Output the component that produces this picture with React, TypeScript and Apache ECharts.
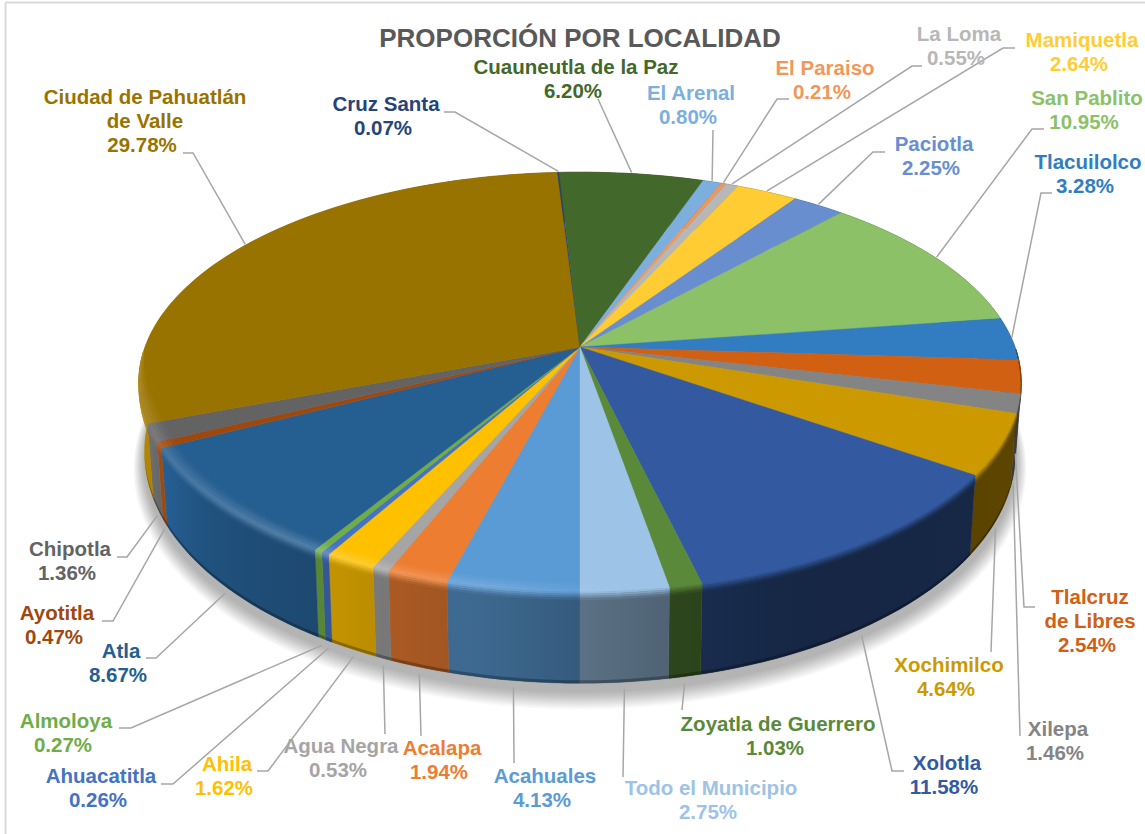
import React, { useEffect, useRef } from "react";
import * as echarts from "echarts";

const localidades = [
  "Acahuales", "Acalapa", "Agua Negra", "Ahila", "Ahuacatitla", "Almoloya", "Atla", "Ayotitla", "Chipotla",
  "Ciudad de Pahuatlán\nde Valle", "Cruz Santa", "Cuauneutla de la Paz", "El Arenal", "El Paraiso", "La Loma",
  "Mamiquetla", "Paciotla", "San Pablito", "Tlacuilolco", "Tlalcruz\nde Libres", "Xilepa", "Xochimilco", "Xolotla",
  "Zoyatla de Guerrero", "Todo el Municipio",
];
const porcentajes = [
  4.13, 1.94, 0.53, 1.62, 0.26, 0.27, 8.67, 0.47, 1.36, 29.78, 0.07, 6.2, 0.8, 0.21, 0.55, 2.64, 2.25, 10.95, 3.28,
  2.54, 1.46, 4.64, 11.58, 1.03, 2.75,
];
const colores = [
  "#5b9bd5", "#ed7d31", "#a5a5a5", "#ffc000", "#4472c4", "#70ad47", "#255e91", "#9e480e", "#636363", "#997300",
  "#264478", "#43682b", "#7cafdd", "#f1975a", "#b7b7b7", "#ffcd33", "#698ed0", "#8cc168", "#327dc2", "#d26012",
  "#848484", "#cc9a00", "#335aa1", "#5a8a39", "#9dc3e6",
];
const titulo = "PROPORCIÓN POR LOCALIDAD";

// Layout (not data): centre of each label's first line, then the leader's elbow points from the label side.
const labelPos: number[][] = [
  [545, 777], [442, 749], [341, 747], [227, 765], [101, 777], [66, 722], [121, 652], [57, 614], [70, 550],
  [145, 98], [386, 105], [576, 68], [691, 94], [825, 69], [959, 35], [1082, 41], [934, 145], [1087, 99], [1088, 163],
  [1090, 598], [1058, 730], [949, 666], [947, 764], [778, 725], [711, 789],
];
const leaderElbows: number[][][] = [
  [[514, 763]], [[421, 736]], [[385, 734]], [[257, 771], [268, 771]], [[161, 784], [173, 784]], [[119, 728], [131, 728]],
  [[146, 658], [156, 658]], [[102, 621], [113, 621]], [[117, 557], [127, 557]],
  [[183, 153], [193, 153]], [[444, 112], [455, 112]], [[598, 99]], [[713, 130]], [[789, 99], [777, 99]],
  [[922, 66], [912, 66]], [[1015, 48], [1003, 48]], [[885, 152], [873, 152]], [[1044, 129], [1032, 129]],
  [[1052, 193], [1041, 193]], [[1035, 607], [1024, 607]], [[1020, 736]], [[991, 652]], [[904, 771], [892, 771]],
  [[682, 710]], [[623, 777]],
];

const CX = 580, CY = 347, R = 435, RB = 204, K = 1 / 6;
const total = porcentajes.reduce((a, b) => a + b, 0);
const START_ANGLE = 180;
const angles: number[] = [START_ANGLE];
porcentajes.forEach((p, i) => angles.push(angles[i] + (p / total) * 360));

type P = number[];
const topPt = (deg: number, r = 1): P => {
  const t = (deg * Math.PI) / 180;
  const X = r * Math.sin(t), Z = r * Math.cos(t), s = 1 / (1 + K * Z);
  return [CX + R * X * s, CY - RB * Z * s];
};
const basePt = (p: P): P => [CX + (p[0] - CX) * 0.987, CY + 67 + 1.1 * (p[1] - CY)];
const arc = (a: number, b: number): number[] => {
  const n = Math.max(2, Math.ceil((b - a) / 1.5));
  return Array.from({ length: n + 1 }, (_, i) => a + ((b - a) * i) / n);
};
const lerpTable = (xs: number[], ys: number[], x: number) => {
  if (x <= xs[0]) return ys[0];
  for (let i = 1; i < xs.length; i++) {
    if (x <= xs[i]) return ys[i - 1] + ((ys[i] - ys[i - 1]) * (x - xs[i - 1])) / (xs[i] - xs[i - 1]);
  }
  return ys[ys.length - 1];
};
const sideMul = (x: number) =>
  lerpTable([135, 165, 210, 340, 420, 500, 600, 680, 800, 1020], [1.22, 1.0, 0.85, 0.76, 0.7, 0.66, 0.56, 0.5, 0.42, 0.45], x);
const hiAmt = (x: number) => lerpTable([160, 300, 500, 620], [0.16, 0.22, 0.16, 0], x);
const rgb = (h: string) => [1, 3, 5].map((i) => parseInt(h.slice(i, i + 2), 16));
const toCss = (c: number[]) => `rgb(${c.map((v) => Math.max(0, Math.min(255, Math.round(v)))).join(",")})`;
const mix = (a: number[], b: number[], t: number) => a.map((v, i) => v + (b[i] - v) * t);
const mul = (a: number[], m: number) => a.map((v) => v * m);
const grad = (x0: number, x1: number, fn: (x: number) => number[]) => {
  const a = Math.min(x0, x1), b = Math.max(x0, x1) + 0.5;
  const stops = [0, 0.25, 0.5, 0.75, 1].map((o) => ({ offset: o, color: toCss(fn(a + (b - a) * o)) }));
  return new echarts.graphic.LinearGradient(a, 0, b, 0, stops, true);
};
const bandColor = (base: number[], x: number, d: number) => {
  const side = mul(base, sideMul(x));
  const hi = mix(base, [255, 255, 255], hiAmt(x));
  return d < 0 ? mix(base, hi, (d + 8) / 8) : mix(hi, side, d / 8);
};
const taper = (deg: number) => Math.max(0, Math.min(1, -Math.cos((deg * Math.PI) / 180) / 0.3));

// Soft ground shadow: stacked translucent outlines that grow outward and downward from the base rim.
const SHADOW_STEPS = 16;
const shadowItem = () => {
  const children: any[] = [];
  for (let n = SHADOW_STEPS; n >= 1; n--) {
    const gx = 1 + (n * 0.7) / 435;
    const gy = 1 + (n * 0.8) / 300;
    const pts = arc(0, 360).map((d) => {
      const p = basePt(topPt(d));
      return [CX + (p[0] - CX) * gx, CY + 40 + (p[1] - CY - 40) * gy + 8 + n * 0.35];
    });
    children.push({ type: "polygon", shape: { points: pts }, style: { fill: "rgba(0,0,0,0.018)" } });
  }
  return { type: "group", children };
};

const sideItem = (params: any) => {
  const i = params.dataIndex;
  const base = rgb(colores[i]);
  const ds = arc(angles[i], angles[i + 1]);
  const rim = ds.map((d) => topPt(d));
  const bot = rim.map(basePt);
  const xs = rim.concat(bot).map((p) => p[0]);
  const x0 = Math.min(...xs), x1 = Math.max(...xs);
  const children: any[] = [];
  const sideFill = grad(x0, x1, (x) => mul(base, sideMul(x)));
  children.push({
    type: "polygon",
    shape: { points: rim.concat(bot.slice().reverse()) },
    style: { fill: sideFill, stroke: sideFill, lineWidth: 0.4 },
  });
  // darker lip along the bottom edge
  const lip = ds.map((d) => {
    const p = basePt(topPt(d));
    return [p[0], p[1] - 3 * taper(d)];
  });
  const lipFill = grad(x0, x1, (x) => mul(base, sideMul(x) * 0.72));
  children.push({ type: "polygon", shape: { points: lip.concat(bot.slice().reverse()) }, style: { fill: lipFill } });
  return { type: "group", children };
};

const topItem = (params: any) => {
  const i = params.dataIndex;
  const pts = arc(angles[i], angles[i + 1]).map((d) => topPt(d));
  return {
    type: "polygon",
    shape: { points: [[CX, CY], ...pts] },
    style: { fill: colores[i], stroke: colores[i], lineWidth: 0.4 },
  };
};

const BAND = [-8, -6, -4, -2, 0, 2, 4, 6, 8];
const bandPt = (deg: number, d: number): P => {
  const t = taper(deg);
  if (d < 0) return topPt(deg, 1 + (d * t) / 240);
  const p = topPt(deg);
  return [p[0], p[1] + d * t];
};
const bevelItem = (params: any) => {
  const i = params.dataIndex;
  const base = rgb(colores[i]);
  const ds = arc(angles[i], angles[i + 1]).filter((d) => Math.cos((d * Math.PI) / 180) < 0);
  if (ds.length < 2) return { type: "group", children: [] };
  const children: any[] = [];
  const ox = ds.map((d) => topPt(d)[0]);
  const x0 = Math.min(...ox), x1 = Math.max(...ox);
  for (let b = 0; b < BAND.length - 1; b++) {
    const a0 = BAND[b], a1 = BAND[b + 1];
    const up = ds.map((d) => bandPt(d, a0));
    const dn = ds.map((d) => bandPt(d, a1));
    const fill = grad(x0, x1, (x) => bandColor(base, x, (a0 + a1) / 2));
    children.push({
      type: "polygon",
      shape: { points: up.concat(dn.reverse()) },
      style: { fill, stroke: fill, lineWidth: 0.3 },
    });
  }
  return { type: "group", children };
};

const leaderItem = (params: any) => {
  const i = params.dataIndex;
  const mid = (angles[i] + angles[i + 1]) / 2;
  const front = Math.cos((mid * Math.PI) / 180) < 0;
  const p = front ? basePt(topPt(mid)) : topPt(mid);
  const end = front ? [p[0], p[1] + 7] : [p[0], p[1] - 1];
  return {
    type: "polyline",
    shape: { points: [...leaderElbows[i], end] },
    style: { stroke: "#a6a6a6", lineWidth: 1.5, fill: "none" },
  };
};

const LABEL_FONT = 'bold 20.5px "Liberation Sans", Arial, sans-serif';
const labelItem = (params: any) => {
  const i = params.dataIndex;
  const [x, y] = labelPos[i];
  const lines = localidades[i].split("\n").length;
  const common = { align: "center", verticalAlign: "top", lineHeight: 24, fill: colores[i], font: LABEL_FONT };
  return {
    type: "group",
    children: [
      { type: "text", style: { ...common, text: localidades[i], x, y: y - 13.5 } },
      { type: "text", style: { ...common, text: `${porcentajes[i].toFixed(2)}%`, x: x - 3, y: y - 13.5 + lines * 24 } },
    ],
  };
};

const layer = (renderItem: any, z: number) => ({
  type: "custom",
  coordinateSystem: "none",
  silent: true,
  clip: false,
  z,
  renderItem,
  data: porcentajes.map((v) => [v]),
});

export default function App() {
  const ref = useRef<HTMLDivElement>(null);
  useEffect(() => {
    const chart = echarts.init(ref.current!, undefined, { renderer: "svg" });
    chart.setOption({
      animation: false,
      backgroundColor: "#ffffff",
      title: {
        text: titulo,
        left: 575,
        top: 20,
        textAlign: "center",
        textStyle: { color: "#595959", fontWeight: "bold", fontSize: 26, fontFamily: '"Liberation Sans", Arial, sans-serif' },
      },
      graphic: [
        { type: "line", shape: { x1: 5.5, y1: 2.5, x2: 1145, y2: 2.5 }, style: { stroke: "#d9d9d9", lineWidth: 2 } },
        { type: "line", shape: { x1: 5.5, y1: 2.5, x2: 5.5, y2: 834 }, style: { stroke: "#d9d9d9", lineWidth: 2 } },
      ],
      series: [
        { ...layer(shadowItem, 1), data: [[0]] },
        layer(sideItem, 2),
        layer(topItem, 3),
        layer(bevelItem, 4),
        layer(leaderItem, 5),
        layer(labelItem, 6),
      ],
    });
    return () => chart.dispose();
  }, []);
  return <div ref={ref} style={{ position: "absolute", left: 0, top: 0, width: 1145, height: 834 }} />;
}
